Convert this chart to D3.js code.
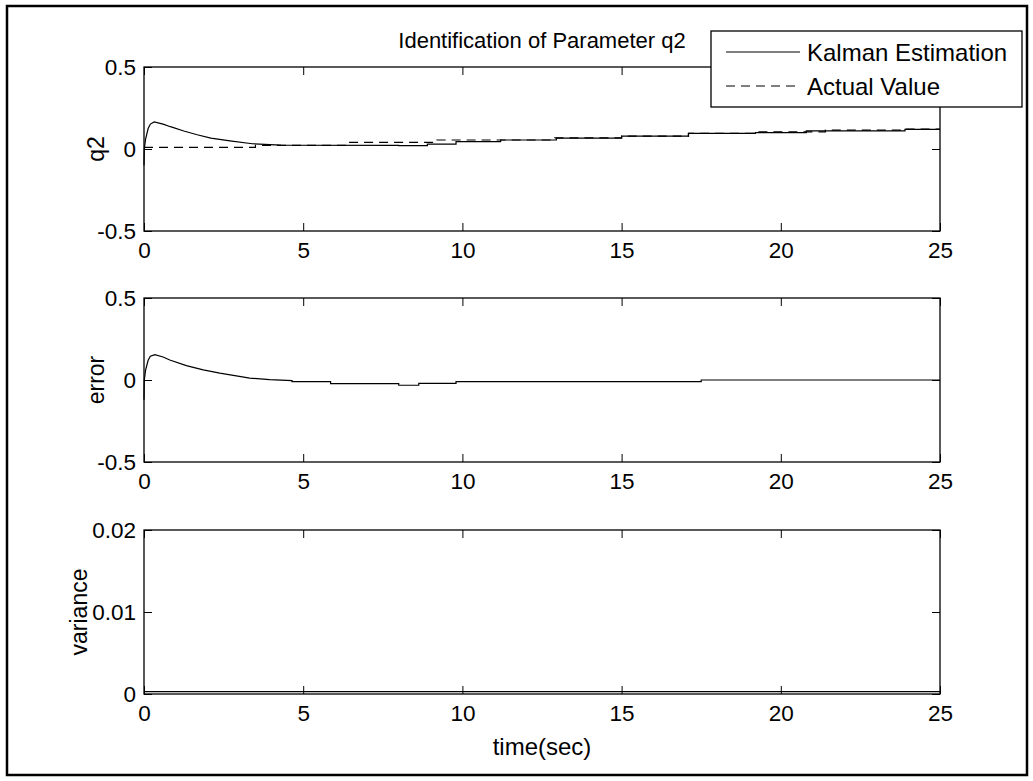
<!DOCTYPE html>
<head>
  <meta charset="utf-8">
  <style>
    body { margin: 0; background: #fff; }
    svg text { font-family: "Liberation Sans", Arial, sans-serif; fill: #000; }
    svg .tick line { stroke: #000; stroke-width: 1px; }
    svg .domain { display: none; }
    svg .trace { fill: none; stroke: #000; stroke-width: 1.2px; }
  </style>
</head>
<body>
<script src="https://cdn.jsdelivr.net/npm/d3@7"></script>
<script>
// tick values
var xTicks = [0, 5, 10, 15, 20, 25];
var q2Ticks = [-0.5, 0, 0.5];
var errTicks = [-0.5, 0, 0.5];
var varTicks = [0, 0.01, 0.02];

// Kalman estimate of q2 (time, value)
var estT = [0, 0.01, 0.05, 0.13, 0.2, 0.32, 0.6, 0.83, 1.25, 1.67, 2.1, 2.7, 3.4, 4.3, 8.0, 8.0, 8.9, 8.9, 9.8, 9.8, 11.2, 11.2, 12.95, 12.95, 15, 15, 17.1, 17.1, 19.2, 19.2, 20.8, 20.8, 23.9, 23.9, 25];
var estV = [-0.1, 0.0, 0.06, 0.125, 0.152, 0.165, 0.152, 0.136, 0.11, 0.087, 0.066, 0.05, 0.032, 0.024, 0.022, 0.02, 0.02, 0.03, 0.03, 0.045, 0.045, 0.055, 0.055, 0.066, 0.066, 0.078, 0.078, 0.095, 0.095, 0.1, 0.1, 0.11, 0.11, 0.12, 0.12];

// actual q2, held between samples
var actT = [0, 3.5, 6.4, 9.2, 12.9, 15, 17.1, 19.2, 21.4, 23.9, 25];
var actV = [0.01, 0.022, 0.04, 0.055, 0.068, 0.079, 0.095, 0.105, 0.115, 0.122, 0.122];

// estimation error (time, value)
var errT = [0, 0.01, 0.05, 0.13, 0.2, 0.34, 0.6, 0.81, 1.33, 1.86, 2.38, 2.9, 3.32, 3.95, 4.65, 4.65, 5.86, 5.86, 8.0, 8.0, 8.63, 8.63, 9.8, 9.8, 17.5, 17.5, 25];
var errV = [-0.12, 0.0, 0.06, 0.12, 0.145, 0.155, 0.14, 0.122, 0.088, 0.062, 0.042, 0.025, 0.012, 0.002, -0.004, -0.01, -0.01, -0.022, -0.022, -0.032, -0.032, -0.02, -0.02, -0.01, -0.01, 0.0, 0.0];

// error variance
var varT = [0, 25];
var varV = [0.0003, 0.0003];

var W = 1033, H = 781;
var left = 144, plotW = 796, plotH = 164;
var tops = [67, 298, 530];

var svg = d3.select("body").append("svg")
    .attr("width", W)
    .attr("height", H);

svg.append("rect")
    .attr("width", W).attr("height", H)
    .attr("fill", "#fff");

// figure frame
svg.append("rect")
    .attr("x", 7).attr("y", 6)
    .attr("width", 1020).attr("height", 769)
    .attr("fill", "none")
    .attr("stroke", "#000")
    .attr("stroke-width", 2.5);

var x = d3.scaleLinear().domain([0, 25]).range([0, plotW]);

function zip(ts, vs) {
  return ts.map(function (t, i) { return [t, vs[i]]; });
}

function makePanel(top, yDomain, yTicks, label, labelX, series) {
  var y = d3.scaleLinear().domain(yDomain).range([plotH, 0]);
  var g = svg.append("g")
      .attr("transform", "translate(" + left + "," + top + ")");

  series.forEach(function (s) {
    var line = d3.line()
        .x(function (d) { return x(d[0]); })
        .y(function (d) { return y(d[1]); })
        .curve(s.step ? d3.curveStepAfter : d3.curveLinear);
    g.append("path")
        .classed("trace", true)
        .attr("d", line(s.data))
        .attr("stroke-dasharray", s.dash || null);
  });

  // axes box
  g.append("rect")
      .attr("width", plotW).attr("height", plotH)
      .attr("fill", "none")
      .attr("stroke", "#000")
      .attr("stroke-width", 1.3);

  g.append("g")
      .attr("transform", "translate(0," + plotH + ")")
      .call(d3.axisBottom(x).tickValues(xTicks).tickSize(-8).tickPadding(11)
        .tickFormat(function (d) { return String(d); }));
  g.append("g")
      .call(d3.axisTop(x).tickValues(xTicks).tickSize(-8).tickFormat(""));
  g.append("g")
      .call(d3.axisLeft(y).tickValues(yTicks).tickSize(-8).tickPadding(8)
        .tickFormat(function (d) { return String(d); }));
  g.append("g")
      .attr("transform", "translate(" + plotW + ",0)")
      .call(d3.axisRight(y).tickValues(yTicks).tickSize(-8).tickFormat(""));

  g.selectAll(".tick text")
      .style("font-family", "'Liberation Sans', Arial, sans-serif")
      .style("font-size", "22.5px")
      .attr("fill", "#000");

  g.append("text")
      .attr("transform", "translate(" + (labelX - left) + "," + (plotH / 2) + ") rotate(-90)")
      .attr("text-anchor", "middle")
      .attr("dy", "0.3em")
      .style("font-size", "23px")
      .text(label);
  return g;
}

makePanel(tops[0], [-0.5, 0.5], q2Ticks, "q2", 97, [
  { data: zip(actT, actV), dash: "9,6", step: true },
  { data: zip(estT, estV) }
]);
makePanel(tops[1], [-0.5, 0.5], errTicks, "error", 97, [
  { data: zip(errT, errV) }
]);
makePanel(tops[2], [0, 0.02], varTicks, "variance", 80, [
  { data: zip(varT, varV) }
]);

// title
svg.append("text")
    .attr("x", left + plotW / 2)
    .attr("y", 48)
    .attr("text-anchor", "middle")
    .style("font-size", "22px")
    .text("Identification of Parameter q2");

// x label
svg.append("text")
    .attr("x", left + plotW / 2)
    .attr("y", 755)
    .attr("text-anchor", "middle")
    .style("font-size", "24px")
    .text("time(sec)");

// legend
var leg = svg.append("g").attr("transform", "translate(711,31)");
leg.append("rect")
    .attr("width", 311).attr("height", 76)
    .attr("fill", "#fff")
    .attr("stroke", "#000")
    .attr("stroke-width", 1.3);
var legItems = [
  { name: "Kalman Estimation", dash: null, cy: 21 },
  { name: "Actual Value", dash: "9,6", cy: 55 }
];
legItems.forEach(function (it) {
  leg.append("line")
      .attr("x1", 15).attr("x2", 89)
      .attr("y1", it.cy).attr("y2", it.cy)
      .attr("stroke", "#000")
      .attr("stroke-width", 1.2)
      .attr("stroke-dasharray", it.dash);
  leg.append("text")
      .attr("x", 96).attr("y", it.cy)
      .attr("dy", "0.36em")
      .style("font-size", "24px")
      .text(it.name);
});
</script>
</body>
</html>
